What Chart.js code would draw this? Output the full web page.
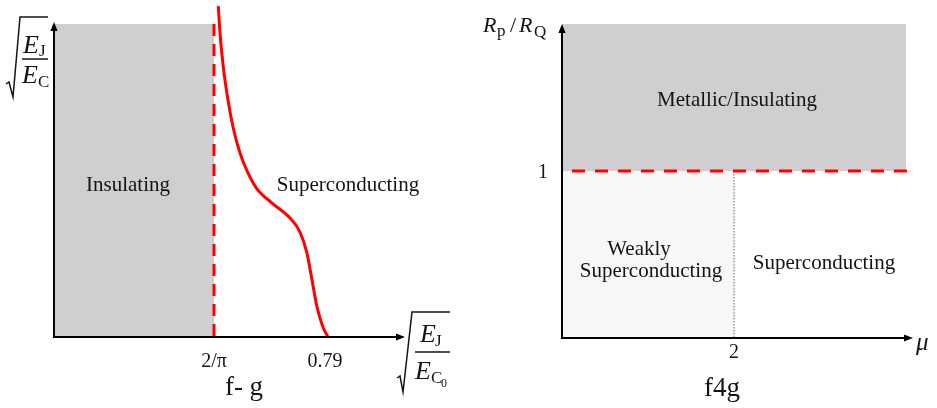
<!DOCTYPE html>
<html>
<head>
<meta charset="utf-8">
<script src="https://cdn.jsdelivr.net/npm/chart.js@4/dist/chart.umd.min.js"></script>
<style>
  html, body { margin: 0; padding: 0; background: #fff; }
  #wrap { position: relative; width: 937px; height: 408px; overflow: hidden; }
  canvas { position: absolute; top: 0; }
  #c1 { left: 0; }
  #c2 { left: 468px; }
</style>
</head>
<body>
<div id="wrap">
  <canvas id="c1" width="468" height="408"></canvas>
  <canvas id="c2" width="469" height="408"></canvas>
</div>
<script>
// ---- Panel "f- g": sqrt(EJ/EC) versus sqrt(EJ/EC0) ----
const fgThresholds = [2 / Math.PI, 0.79];
const fgTickLabels = ['2/π', '0.79'];
const fgRange = [0.4213, 0.8936];
// superconducting / insulating crossover curve
const fgCurveX = [0.6424, 0.6447, 0.6491, 0.6554, 0.6622, 0.6716, 0.6823, 0.6944, 0.7146, 0.7389, 0.7523, 0.7617, 0.7685, 0.7752, 0.7832, 0.79];
const fgCurveY = [1.057, 0.971, 0.863, 0.757, 0.671, 0.588, 0.524, 0.473, 0.428, 0.380, 0.335, 0.268, 0.182, 0.096, 0.032, 0];
const fgRegionNames = ['Insulating', 'Superconducting'];
const fgCaption = 'f- g';

// ---- Panel "f4g": Rp/RQ versus mu ----
const f4gMuTicks = [2];
const f4gMuTickLabels = ['2'];
const f4gRTicks = [1];
const f4gRTickLabels = ['1'];
const f4gMuRange = [0, 4];
const f4gRRange = [0, 1.88];
const f4gRegionNames = ['Metallic/Insulating', 'Weakly', 'Superconducting', 'Superconducting'];
const f4gCaption = 'f4g';

const RED = '#ff0000';
const GRAY = '#d0cece';
const LIGHT = '#f7f7f7';
const INK = '#141414';
const SERIF = '"Liberation Serif", "DejaVu Serif", serif';

function arrowLine(ctx, x1, y1, x2, y2) {
  const ang = Math.atan2(y2 - y1, x2 - x1);
  const hl = 9, hw = 3.6;
  ctx.save();
  ctx.strokeStyle = '#000';
  ctx.fillStyle = '#000';
  ctx.lineWidth = 2;
  ctx.beginPath();
  ctx.moveTo(x1, y1);
  ctx.lineTo(x2 - Math.cos(ang) * (hl - 1), y2 - Math.sin(ang) * (hl - 1));
  ctx.stroke();
  ctx.beginPath();
  ctx.moveTo(x2, y2);
  ctx.lineTo(x2 - Math.cos(ang) * hl - Math.sin(ang) * hw, y2 - Math.sin(ang) * hl + Math.cos(ang) * hw);
  ctx.lineTo(x2 - Math.cos(ang) * hl + Math.sin(ang) * hw, y2 - Math.sin(ang) * hl - Math.cos(ang) * hw);
  ctx.closePath();
  ctx.fill();
  ctx.restore();
}

function txt(ctx, s, x, y, size, opts) {
  opts = opts || {};
  ctx.save();
  ctx.fillStyle = INK;
  ctx.font = (opts.italic ? 'italic ' : '') + size + 'px ' + SERIF;
  ctx.textAlign = opts.align || 'left';
  ctx.textBaseline = 'alphabetic';
  ctx.fillText(s, x, y);
  ctx.restore();
}

function seg(ctx, pts, w) {
  ctx.save();
  ctx.strokeStyle = INK;
  ctx.lineWidth = w;
  ctx.lineJoin = 'miter';
  ctx.beginPath();
  ctx.moveTo(pts[0][0], pts[0][1]);
  for (let i = 1; i < pts.length; i++) ctx.lineTo(pts[i][0], pts[i][1]);
  ctx.stroke();
  ctx.restore();
}

const fgDecor = {
  id: 'fgDecor',
  afterDatasetsDraw(chart) {
    const { ctx, chartArea: a, scales: { x } } = chart;
    arrowLine(ctx, a.left, a.bottom + 1, a.left, a.top - 2);
    arrowLine(ctx, a.left - 1, a.bottom, a.right, a.bottom);
    fgThresholds.forEach((v, i) => {
      txt(ctx, fgTickLabels[i], x.getPixelForValue(v) - (i === 1 ? 3 : 0), a.bottom + 30, 20, { align: 'center' });
    });
    txt(ctx, fgRegionNames[0], 128, 191, 21, { align: 'center' });
    txt(ctx, fgRegionNames[1], 348, 191, 21, { align: 'center' });
    txt(ctx, fgCaption, 244, 395, 27, { align: 'center' });

    // vertical axis title: sqrt(E_J / E_C)
    seg(ctx, [[6, 84], [9, 82], [13, 97], [20, 17], [48, 17]], 1.5);
    txt(ctx, 'E', 23, 53, 26, { italic: true });
    txt(ctx, 'J', 39, 56, 17);
    seg(ctx, [[22, 59], [48, 59]], 1.5);
    txt(ctx, 'E', 22, 83, 26, { italic: true });
    txt(ctx, 'C', 38, 87, 17);

    // horizontal axis title: sqrt(E_J / E_C0)
    seg(ctx, [[397, 378], [400, 376], [403, 392], [412, 312], [450, 312]], 1.5);
    txt(ctx, 'E', 420, 342, 26, { italic: true });
    txt(ctx, 'J', 435, 346, 17);
    seg(ctx, [[415, 352], [450, 352]], 1.5);
    txt(ctx, 'E', 415, 379, 26, { italic: true });
    txt(ctx, 'C', 431, 383, 17);
    txt(ctx, '0', 441, 387, 12);
  }
};

const f4gDecor = {
  id: 'f4gDecor',
  afterDatasetsDraw(chart) {
    const { ctx, chartArea: a, scales: { x, y } } = chart;
    arrowLine(ctx, a.left, a.bottom + 1, a.left, a.top);
    arrowLine(ctx, a.left - 1, a.bottom, a.right + 7, a.bottom);
    f4gMuTicks.forEach((v, i) => {
      txt(ctx, f4gMuTickLabels[i], x.getPixelForValue(v), a.bottom + 20, 20, { align: 'center' });
    });
    f4gRTicks.forEach((v, i) => {
      txt(ctx, f4gRTickLabels[i], a.left - 14, y.getPixelForValue(v) + 7, 20, { align: 'right' });
    });
    txt(ctx, f4gRegionNames[0], 269, 106, 21, { align: 'center' });
    txt(ctx, f4gRegionNames[1], 171, 255, 21, { align: 'center' });
    txt(ctx, f4gRegionNames[2], 183, 277, 21, { align: 'center' });
    txt(ctx, f4gRegionNames[3], 356, 269, 21, { align: 'center' });
    txt(ctx, f4gCaption, 254, 396, 27, { align: 'center' });
    // axis titles
    txt(ctx, 'R', 15, 32, 22, { italic: true });
    txt(ctx, 'p', 29, 36, 17);
    txt(ctx, '/', 42, 32, 22);
    txt(ctx, 'R', 51, 32, 22, { italic: true });
    txt(ctx, 'Q', 66, 37, 17);
    txt(ctx, 'μ', 448, 350, 25, { italic: true });
  }
};

const hidden = { display: false };
const baseOpts = {
  responsive: false,
  animation: false,
  devicePixelRatio: 1,
  plugins: { legend: { display: false }, tooltip: { enabled: false } },
  elements: { point: { radius: 0, hoverRadius: 0 } }
};

new Chart(document.getElementById('c1'), {
  type: 'scatter',
  data: {
    datasets: [
      {
        type: 'line', order: 1, clip: false,
        data: fgCurveX.map((v, i) => ({ x: v, y: fgCurveY[i] })),
        borderColor: RED, borderWidth: 3, cubicInterpolationMode: 'monotone', fill: false
      },
      {
        type: 'line', order: 2, clip: false,
        data: [{ x: fgThresholds[0], y: 1 }, { x: fgThresholds[0], y: 0 }],
        borderColor: RED, borderWidth: 3, borderDash: [12, 8], fill: false
      },
      {
        type: 'line', order: 3,
        data: [{ x: fgRange[0], y: 1 }, { x: fgThresholds[0], y: 1 }],
        borderWidth: 0, borderColor: 'rgba(0,0,0,0)', backgroundColor: GRAY, fill: 'origin'
      }
    ]
  },
  options: Object.assign({}, baseOpts, {
    layout: { padding: { left: 54, right: 63, top: 24, bottom: 71 } },
    scales: {
      x: Object.assign({ type: 'linear', min: fgRange[0], max: fgRange[1] }, hidden),
      y: Object.assign({ type: 'linear', min: 0, max: 1 }, hidden)
    }
  }),
  plugins: [fgDecor]
});

new Chart(document.getElementById('c2'), {
  type: 'scatter',
  data: {
    datasets: [
      {
        type: 'line', order: 1, clip: false,
        data: [{ x: 0.116, y: f4gRTicks[0] }, { x: 4.07, y: f4gRTicks[0] }],
        borderColor: RED, borderWidth: 3, borderDash: [13, 10], fill: false
      },
      {
        type: 'line', order: 2,
        data: [{ x: f4gMuTicks[0], y: f4gRTicks[0] }, { x: f4gMuTicks[0], y: 0 }],
        borderColor: '#666', borderWidth: 1, borderDash: [1.5, 1.5], fill: false
      },
      {
        type: 'line', order: 3,
        data: [{ x: f4gMuRange[0], y: f4gRRange[1] }, { x: f4gMuRange[1], y: f4gRRange[1] }],
        borderWidth: 0, borderColor: 'rgba(0,0,0,0)', backgroundColor: GRAY, fill: { value: f4gRTicks[0] }
      },
      {
        type: 'line', order: 4,
        data: [{ x: f4gMuRange[0], y: f4gRTicks[0] }, { x: f4gMuTicks[0], y: f4gRTicks[0] }],
        borderWidth: 0, borderColor: 'rgba(0,0,0,0)', backgroundColor: LIGHT, fill: 'origin'
      }
    ]
  },
  options: Object.assign({}, baseOpts, {
    layout: { padding: { left: 94, right: 31, top: 24, bottom: 70 } },
    scales: {
      x: Object.assign({ type: 'linear', min: f4gMuRange[0], max: f4gMuRange[1] }, hidden),
      y: Object.assign({ type: 'linear', min: f4gRRange[0], max: f4gRRange[1] }, hidden)
    }
  }),
  plugins: [f4gDecor]
});
</script>
</body>
</html>
